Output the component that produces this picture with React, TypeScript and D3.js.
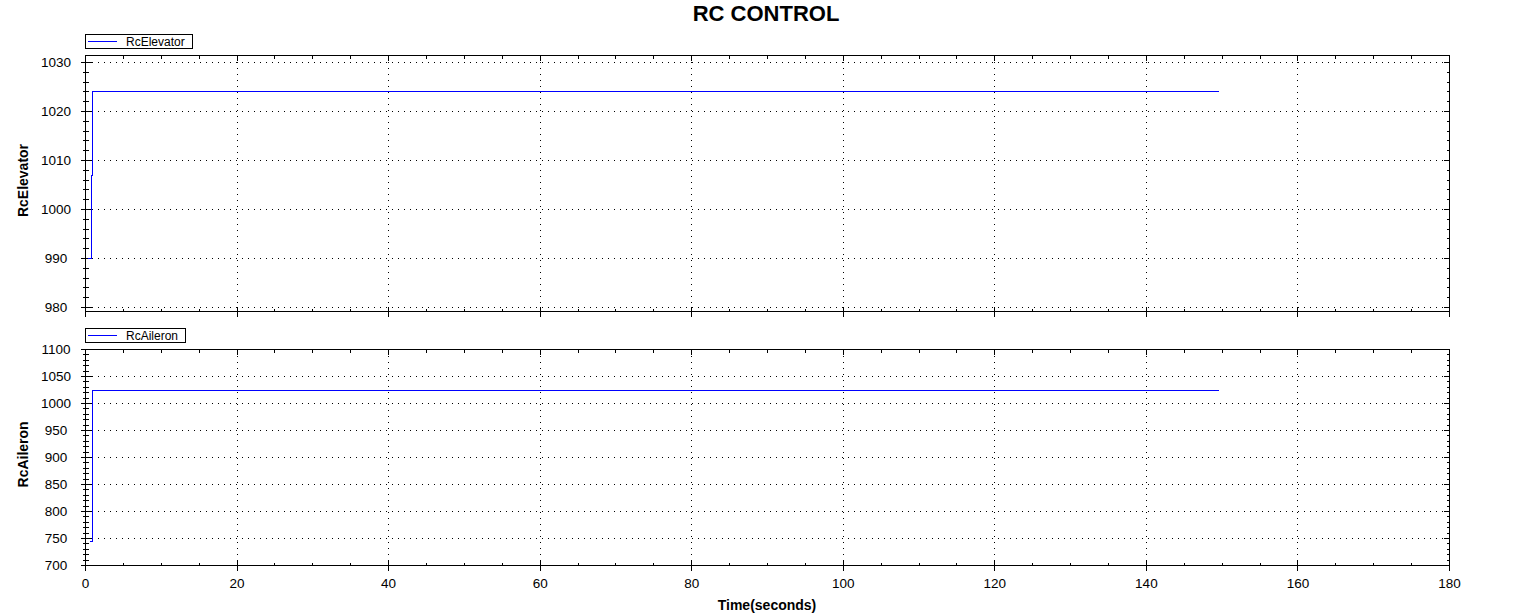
import React from "react";
import * as d3 from "d3";

// ---- data ----
const elevatorTime = [0.3, 0.8, 0.95, 149.6];
const elevatorValue = [990, 1007, 1024, 1024];
const aileronTime = [0.65, 0.88, 0.96, 149.6];
const aileronValue = [745, 884, 1024, 1024];

const xTicks = [0, 20, 40, 60, 80, 100, 120, 140, 160, 180];
const elevatorTicks = [980, 990, 1000, 1010, 1020, 1030];
const aileronTicks = [700, 750, 800, 850, 900, 950, 1000, 1050, 1100];

const W = 1534;
const H = 615;
const FONT = "'Liberation Sans', Arial, sans-serif";
const LINE = "#0000ff";

const x = d3.scaleLinear().domain([0, 180]).range([85.5, 1449.5]);

function textWidth(t: string, font: string) {
  const c = document.createElement("canvas").getContext("2d");
  if (!c) return t.length * 6.5;
  c.font = font;
  return c.measureText(t).width;
}

type PanelProps = {
  name: string;
  times: number[];
  values: number[];
  domain: [number, number];
  range: [number, number];
  majorTicks: number[];
  minorStep: number;
  labelY: number;
  legendTop: number;
};

function Panel(p: PanelProps) {
  const y = d3.scaleLinear().domain(p.domain).range(p.range);
  const top = p.range[1];
  const bottom = p.range[0];
  const left = x.range()[0];
  const right = x.range()[1];
  const pts = p.times.map((t, i) => [t, p.values[i]] as [number, number]);
  const line = d3
    .line<[number, number]>()
    .x((d) => x(d[0]))
    .y((d) => Math.round(y(d[1]) - 0.5) + 0.5)
    .curve(d3.curveStepAfter);

  const minorY: number[] = [];
  const lo = Math.ceil(p.domain[0] / p.minorStep) * p.minorStep;
  for (let v = lo; v <= p.domain[1] + 1e-9; v += p.minorStep) minorY.push(v);
  const minorX: number[] = [];
  for (let v = 0; v <= 180; v += 5) minorX.push(v);
  const ry = (v: number) => Math.round(y(v) - 0.5) + 0.5;
  const rx = (v: number) => Math.round(x(v) - 0.5) + 0.5;

  const legendFont = `12px ${FONT}`;
  const tw = textWidth(p.name, legendFont);
  const lt = p.legendTop;

  return (
    <g shapeRendering="crispEdges">
      {/* grid */}
      {xTicks.slice(1, -1).map((t) => (
        <line key={"gx" + t} x1={rx(t)} x2={rx(t)} y1={top} y2={bottom} stroke="#000" strokeDasharray="1 5" />
      ))}
      {p.majorTicks
        .filter((v) => ry(v) > top + 1 && ry(v) < bottom - 1)
        .map((v) => (
          <line key={"gy" + v} x1={left} x2={right} y1={ry(v)} y2={ry(v)} stroke="#000" strokeDasharray="1 5" />
        ))}
      {/* frame */}
      <rect x={left} y={top} width={right - left} height={bottom - top} fill="none" stroke="#000" />
      {/* left ticks */}
      {minorY.map((v) => (
        <line key={"lm" + v} x1={left - 2.5} x2={left + 3} y1={ry(v)} y2={ry(v)} stroke="#000" />
      ))}
      {p.majorTicks.map((v) => (
        <line key={"lM" + v} x1={left - 5} x2={left + 6} y1={ry(v)} y2={ry(v)} stroke="#000" />
      ))}
      {/* right ticks */}
      {minorY.map((v) => (
        <line key={"rm" + v} x1={right - 3} x2={right} y1={ry(v)} y2={ry(v)} stroke="#000" />
      ))}
      {p.majorTicks.map((v) => (
        <line key={"rM" + v} x1={right - 6} x2={right} y1={ry(v)} y2={ry(v)} stroke="#000" />
      ))}
      {/* top & bottom ticks */}
      {minorX.map((t) => (
        <g key={"xm" + t}>
          <line x1={rx(t)} x2={rx(t)} y1={top} y2={top + 3} stroke="#000" />
          <line x1={rx(t)} x2={rx(t)} y1={bottom - 3} y2={bottom} stroke="#000" />
        </g>
      ))}
      {xTicks.map((t) => (
        <g key={"xM" + t}>
          <line x1={rx(t)} x2={rx(t)} y1={top} y2={top + 5} stroke="#000" />
          <line x1={rx(t)} x2={rx(t)} y1={bottom - 5} y2={bottom + 5} stroke="#000" />
        </g>
      ))}
      {/* y tick labels */}
      <g shapeRendering="auto">
        {p.majorTicks.map((v) => (
          <text key={"yl" + v} x={56} y={y(v)} dy="0.36em" textAnchor="middle" fontSize={13.5} fontFamily={FONT} fill="#000">
            {v}
          </text>
        ))}
        <text
          transform={`translate(28,${p.labelY}) rotate(-90)`}
          textAnchor="middle"
          fontSize={14}
          fontWeight="bold"
          fontFamily={FONT}
          fill="#000"
        >
          {p.name}
        </text>
      </g>
      {/* data */}
      <path d={line(pts) || ""} fill="none" stroke={LINE} strokeWidth={1} />
      {/* legend */}
      <rect x={left} y={lt} width={tw + 48} height={14} fill="#fff" stroke="#000" />
      <line x1={left + 2.5} x2={left + 31.5} y1={lt + 7} y2={lt + 7} stroke={LINE} />
      <text x={left + 40.5} y={lt + 11.2} fontSize={12} fontFamily={FONT} fill="#000" shapeRendering="auto">
        {p.name}
      </text>
    </g>
  );
}

export default function App() {
  return (
    <svg width={W} height={H} style={{ position: "absolute", left: 0, top: 0, background: "#fff" }}>
      <rect x={0} y={0} width={W} height={H} fill="#fff" />
      <text x={766} y={21} textAnchor="middle" fontSize={22} fontWeight="bold" fontFamily={FONT} fill="#000">
        RC CONTROL
      </text>
      <Panel
        name="RcElevator"
        times={elevatorTime}
        values={elevatorValue}
        domain={[979.18, 1031.43]}
        range={[311.5, 55.5]}
        majorTicks={elevatorTicks}
        minorStep={2}
        labelY={180.5}
        legendTop={34.5}
      />
      <Panel
        name="RcAileron"
        times={aileronTime}
        values={aileronValue}
        domain={[700, 1100]}
        range={[565.5, 349.5]}
        majorTicks={aileronTicks}
        minorStep={10}
        labelY={454.4}
        legendTop={328.5}
      />
      {xTicks.map((t) => (
        <text key={"xl" + t} x={x(t)} y={588} textAnchor="middle" fontSize={13.5} fontFamily={FONT} fill="#000">
          {t}
        </text>
      ))}
      <text x={767} y={610} textAnchor="middle" fontSize={14} fontWeight="bold" fontFamily={FONT} fill="#000">
        Time(seconds)
      </text>
    </svg>
  );
}
